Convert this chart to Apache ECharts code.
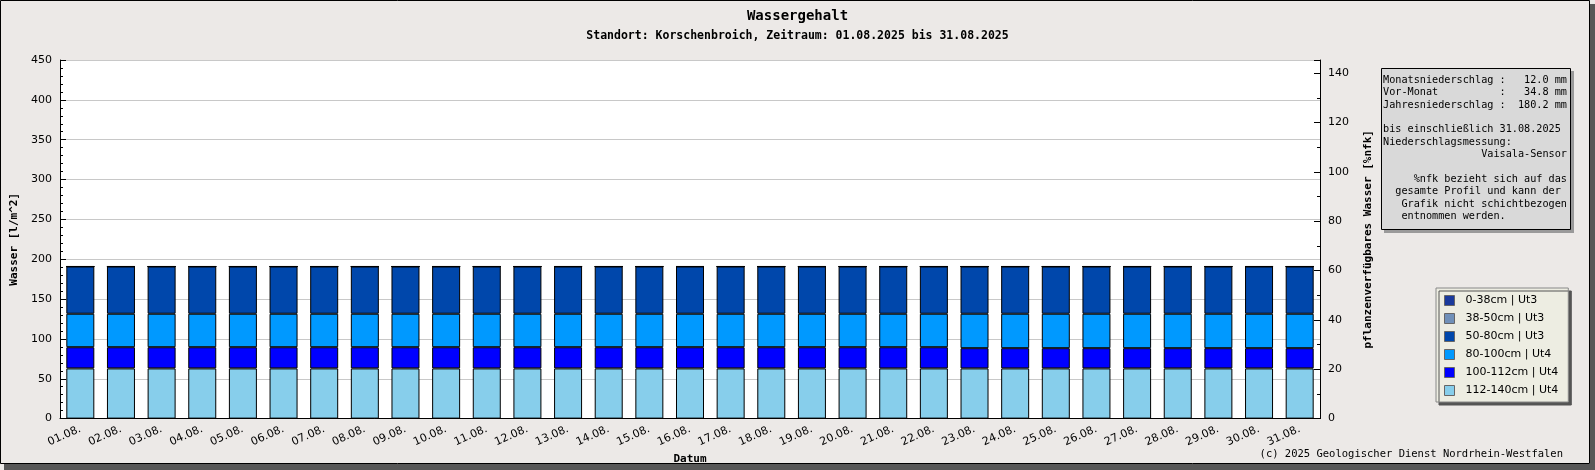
<!DOCTYPE html>
<html>
<head>
<meta charset="utf-8">
<script src="https://cdn.jsdelivr.net/npm/echarts@6/dist/echarts.min.js"></script>
<style>
  html, body { margin: 0; padding: 0; background: #ece9e7; }
  #chart { width: 1595px; height: 470px; }
</style>
</head>
<body>
<div id="chart"></div>
<script>
// Tage im August 2025
const days = [];
for (let d = 1; d <= 31; d++) days.push((d < 10 ? '0' + d : '' + d) + '.08.');

// Schichtwerte in l/m^2 (von unten nach oben gestapelt)
const s112_140 = [63, 63, 63, 63, 63, 63, 63, 63, 63, 63, 63, 63, 63, 63, 63, 63,
  63, 63, 63, 63, 63, 63, 63, 63, 63, 63, 63, 63, 63, 63, 63];
const s100_112 = [26.6, 26.6, 26.6, 26.6, 26.6, 26.6, 26.6, 26.6, 26.6, 26.6, 26.6,
  26.6, 26.6, 26.6, 26.6, 26.6, 26.6, 26.6, 26.6, 26.6, 26.6, 26.6,
  25.4, 25.4, 25.4, 25.4, 25.4, 25.4, 25.4, 25.4, 25.4];
const s80_100 = [42, 42, 42, 42, 42, 42, 42, 42, 42, 42, 42, 42, 42, 42, 42, 42,
  42, 42, 42, 42, 42, 42, 43.2, 43.2, 43.2, 43.2, 43.2, 43.2, 43.2, 43.2, 43.2];
const s50_80 = [59.3, 59.3, 59.3, 59.3, 59.3, 59.3, 59.3, 59.3, 59.3, 59.3, 59.3,
  59.3, 59.3, 59.3, 59.3, 59.3, 59.3, 59.3, 59.3, 59.3, 59.3, 59.3, 59.3,
  59.3, 59.3, 59.3, 59.3, 59.3, 59.3, 59.3, 59.3];
const s38_50 = days.map(() => 0);
const s0_38 = days.map(() => 0);

const layerNames = ['0-38cm | Ut3', '38-50cm | Ut3', '50-80cm | Ut3', '80-100cm | Ut4', '100-112cm | Ut4', '112-140cm | Ut4'];
const layerColors = ['#1a3a9c', '#7090b8', '#0047ab', '#0099ff', '#0000ff', '#87ceeb'];

const infoLines = [
  'Monatsniederschlag :   12.0 mm',
  'Vor-Monat          :   34.8 mm',
  'Jahresniederschlag :  180.2 mm',
  '',
  'bis einschließlich 31.08.2025',
  'Niederschlagsmessung:',
  '                Vaisala-Sensor',
  '',
  '     %nfk bezieht sich auf das',
  '  gesamte Profil und kann der',
  '   Grafik nicht schichtbezogen',
  '   entnommen werden.'
];

const mono = 'DejaVu Sans Mono';
const sans = 'DejaVu Sans';

// bottom to top
const stack = [
  [s112_140, 5], [s100_112, 4], [s80_100, 3], [s50_80, 2], [s38_50, 1], [s0_38, 0]
];

const series = stack.map(([vals, i]) => ({
  name: layerNames[i],
  type: 'bar',
  stack: 'w',
  barWidth: 28,
  data: vals,
  itemStyle: { color: layerColors[i], borderColor: '#000', borderWidth: 1 },
  emphasis: { disabled: true }
}));

const chart = echarts.init(document.getElementById('chart'));
chart.setOption({
  backgroundColor: '#ece9e7',
  animation: false,
  title: [
    { text: 'Wassergehalt', left: 'center', top: 4,
      textStyle: { fontFamily: mono, fontWeight: 'bold', fontSize: 14, color: '#000' } },
    { text: 'Standort: Korschenbroich, Zeitraum: 01.08.2025 bis 31.08.2025', left: 'center', top: 25,
      textStyle: { fontFamily: mono, fontWeight: 'bold', fontSize: 11.5, color: '#000' } }
  ],
  grid: {
    left: 60, right: 275, top: 60, bottom: 50,
    show: true, backgroundColor: '#fff', borderWidth: 0
  },
  legend: {
    data: layerNames,
    orient: 'vertical',
    left: 1436, top: 288,
    width: 130, height: 110,
    padding: [7, 10, 6, 8],
    itemGap: 7,
    itemWidth: 10, itemHeight: 10,
    icon: 'rect',
    backgroundColor: '#ededE2',
    borderColor: '#888',
    borderWidth: 1,
    shadowColor: '#555',
    shadowOffsetX: 3, shadowOffsetY: 3, shadowBlur: 0.1,
    selectedMode: false,
    itemStyle: { borderColor: '#666', borderWidth: 1 },
    textStyle: { fontFamily: sans, fontSize: 11, color: '#000', padding: [0, 0, 0, 6] }
  },
  xAxis: {
    type: 'category',
    data: days,
    name: 'Datum',
    nameLocation: 'middle',
    nameGap: 33,
    nameTextStyle: { fontFamily: mono, fontWeight: 'bold', fontSize: 11, color: '#000' },
    axisLine: { lineStyle: { color: '#000', width: 1 } },
    axisTick: { inside: true, length: 4, interval: 0, lineStyle: { color: '#000' } },
    axisLabel: { rotate: 24, interval: 0, margin: 10, fontFamily: sans, fontSize: 11, color: '#000' }
  },
  yAxis: [
    {
      type: 'value', min: 0, max: 450, interval: 50,
      name: 'Wasser [l/m^2]',
      nameLocation: 'middle',
      nameGap: 39,
      nameTextStyle: { fontFamily: mono, fontWeight: 'bold', fontSize: 11, color: '#000' },
      axisLine: { show: true, lineStyle: { color: '#000' } },
      axisTick: { show: true, inside: true, length: 6, lineStyle: { color: '#000' } },
      minorTick: { show: true, splitNumber: 5, length: 3, lineStyle: { color: '#000' } },
      splitLine: { show: true, lineStyle: { color: '#c8c8c8', width: 1 } },
      axisLabel: { fontFamily: sans, fontSize: 11, color: '#000', margin: 8 }
    },
    {
      type: 'value', min: 0, max: 145.3, interval: 20,
      position: 'right',
      name: 'pflanzenverfügbares Wasser [%nfk]',
      nameLocation: 'middle',
      nameGap: 43,
      nameTextStyle: { fontFamily: mono, fontWeight: 'bold', fontSize: 11, color: '#000' },
      axisLine: { show: true, lineStyle: { color: '#000' } },
      axisTick: { show: true, inside: true, length: 6, lineStyle: { color: '#000' } },
      minorTick: { show: true, splitNumber: 2, length: 3, lineStyle: { color: '#000' } },
      splitLine: { show: false },
      axisLabel: { fontFamily: sans, fontSize: 11, color: '#000', margin: 8, showMaxLabel: false,
        formatter: v => (v % 20 === 0 ? String(v) : '') }
    }
  ],
  series: series,
  graphic: [
    // Rahmen mit Schatten
    { type: 'rect', shape: { x: 4, y: 464, width: 1591, height: 6 }, style: { fill: '#575757' }, silent: true },
    { type: 'rect', shape: { x: 1590, y: 4, width: 5, height: 466 }, style: { fill: '#575757' }, silent: true },
    { type: 'rect', shape: { x: 0.5, y: 0.5, width: 1589, height: 463 }, style: { fill: null, stroke: '#000', lineWidth: 1 }, silent: true },
    // Infobox
    { type: 'rect', shape: { x: 1384, y: 71, width: 190, height: 162 }, style: { fill: '#9a9a9a' }, silent: true },
    { type: 'rect', shape: { x: 1381.5, y: 68.5, width: 189, height: 161 }, style: { fill: '#d9d9d9', stroke: '#000', lineWidth: 1 }, silent: true },
    { type: 'text', left: 1383, top: 74, silent: true,
      style: { text: infoLines.join('\n'), font: '10.2px "' + mono + '"', fill: '#000', lineHeight: 12.4 } },
    // Copyright
    { type: 'text', right: 32, top: 449, silent: true,
      style: { text: '(c) 2025 Geologischer Dienst Nordrhein-Westfalen', font: '10.5px "' + mono + '"', fill: '#000' } }
  ]
});
</script>
</body>
</html>
